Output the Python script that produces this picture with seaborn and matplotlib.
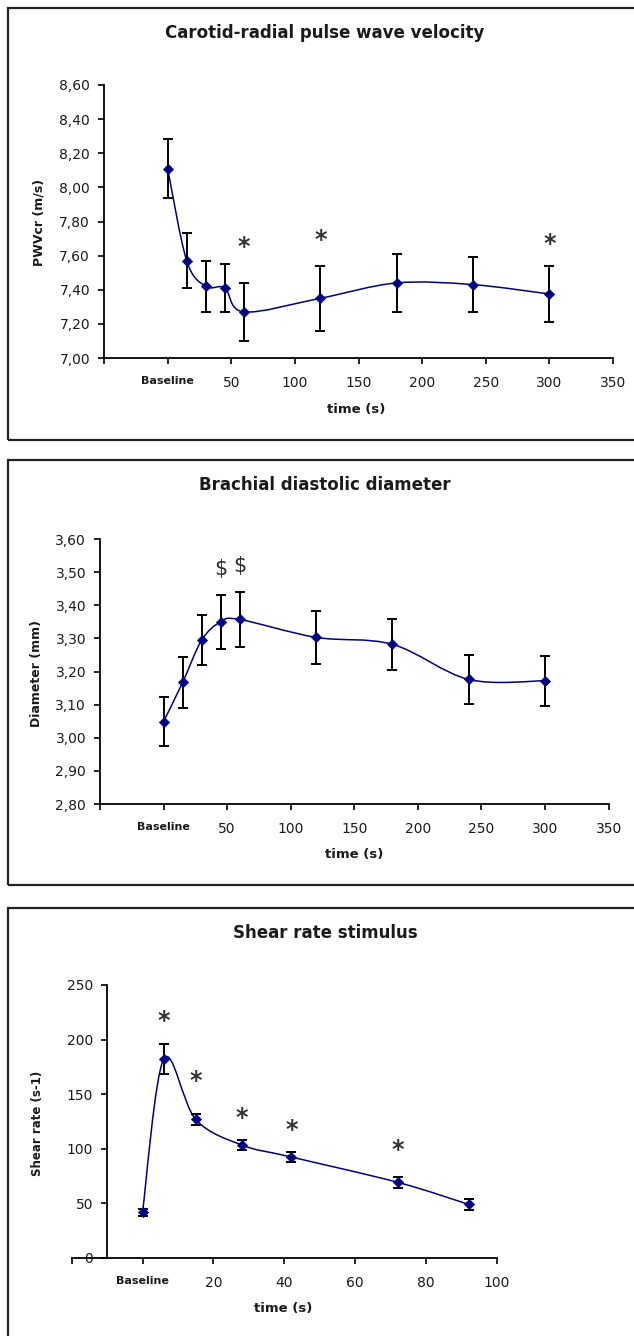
import numpy as np
import pandas as pd
import seaborn as sns
import matplotlib.pyplot as plt
from matplotlib.path import Path
from matplotlib.patches import PathPatch, Rectangle
from matplotlib.ticker import FuncFormatter

# ---- data ----
pwv_time = [0, 15, 30, 45, 60, 120, 180, 240, 300]
pwv_mean = [8.11, 7.57, 7.42, 7.41, 7.27, 7.35, 7.44, 7.43, 7.375]
pwv_err = [0.175, 0.16, 0.15, 0.14, 0.17, 0.19, 0.17, 0.16, 0.165]
pwv_star_x = [60, 120, 300]
pwv_star_y = [7.65, 7.69, 7.67]

diam_time = [0, 15, 30, 45, 60, 120, 180, 240, 300]
diam_mean = [3.049, 3.167, 3.295, 3.350, 3.357, 3.303, 3.282, 3.176, 3.172]
diam_err = [0.073, 0.076, 0.076, 0.081, 0.082, 0.079, 0.076, 0.073, 0.076]
diam_mark_x = [45, 60]
diam_mark_y = [3.51, 3.52]

shear_time = [0, 6, 15, 28, 42, 72, 92]
shear_mean = [41.6, 182.2, 126.8, 103.3, 92.3, 69.1, 48.9]
shear_err = [3.5, 14, 5.2, 5.0, 4.3, 5.3, 5.0]
shear_star_x = [6, 15, 28, 42, 72]
shear_star_y = [217, 162, 128, 117.5, 99]

W, H = 634, 1336
NAVY = '#000080'
TXT = '#1a1a1a'

sns.set_style('white')
plt.rcParams['font.family'] = ['DejaVu Sans']


def smooth_path(x, y):
    # Catmull-Rom style smoothing like Excel's "smoothed line"
    pts = np.column_stack([x, y]).astype(float)
    n = len(pts)
    verts = [pts[0]]
    codes = [Path.MOVETO]
    for i in range(n - 1):
        p0 = pts[i - 1] if i > 0 else pts[i]
        p1, p2 = pts[i], pts[i + 1]
        p3 = pts[i + 2] if i + 2 < n else pts[i + 1]
        verts += [p1 + (p2 - p0) / 6, p2 - (p3 - p1) / 6, p2]
        codes += [Path.CURVE4] * 3
    return Path(verts, codes)


def px_axes(fig, x0, x1, ytop, ybot):
    return fig.add_axes([x0 / W, 1 - ybot / H, (x1 - x0) / W, (ybot - ytop) / H])


def draw_panel(ax, t, m, e, title_y, title):
    df = pd.DataFrame({'time': t, 'value': m})
    ax.add_patch(PathPatch(smooth_path(t, m), fill=False, edgecolor=NAVY, lw=1.1, zorder=2))
    ax.errorbar(t, m, yerr=e, fmt='none', ecolor='black', elinewidth=1.4,
                capsize=3.6, capthick=1.4, zorder=3)
    sns.scatterplot(data=df, x='time', y='value', marker='D', s=28, color=NAVY,
                    edgecolor=NAVY, ax=ax, zorder=4)
    for side in ['top', 'right']:
        ax.spines[side].set_visible(False)
    for side in ['left', 'bottom']:
        ax.spines[side].set_color('black')
        ax.spines[side].set_linewidth(1.3)
    ax.tick_params(axis='both', direction='out', length=4, width=1.2, color='black',
                   labelsize=10, labelcolor=TXT, bottom=True, left=True)
    ax.tick_params(axis='x', pad=9)
    ax.tick_params(axis='y', pad=6)
    fig.text(325 / W, 1 - title_y / H, title, ha='center', va='center',
             fontsize=12, fontweight='bold', color=TXT)


fig = plt.figure(figsize=(W / 100, H / 100), dpi=100)
fig.patch.set_facecolor('white')

# panel frames
for top, bot in [(8, 440), (460, 885), (908, 1345)]:
    fig.add_artist(Rectangle((8 / W, 1 - bot / H), 640 / W, (bot - top) / H,
                             transform=fig.transFigure, fill=False,
                             edgecolor='#222222', lw=1.6))

comma = FuncFormatter(lambda v, p: f'{v:.2f}'.replace('.', ','))

# ---- panel 1 ----
ax1 = px_axes(fig, 104, 613, 85, 358)
draw_panel(ax1, pwv_time, pwv_mean, pwv_err, 33, 'Carotid-radial pulse wave velocity')
ax1.set_xlim(-50, 350)
ax1.set_ylim(7.0, 8.6)
ax1.set_yticks(np.arange(7.0, 8.61, 0.2))
ax1.yaxis.set_major_formatter(comma)
ax1.set_xticks(range(-50, 351, 50))
ax1.set_xticklabels([''] + ['Baseline'] + [str(v) for v in range(50, 351, 50)])
ax1.set_xlabel('time (s)', fontsize=9.5, fontweight='bold', color=TXT)
ax1.set_ylabel('PWVcr (m/s)', fontsize=9, fontweight='bold', color=TXT)
ax1.xaxis.set_label_coords(0.495, -0.187)
ax1.yaxis.set_label_coords(-0.128, 0.498)
for sx, sy in zip(pwv_star_x, pwv_star_y):
    ax1.text(sx, sy, '*', ha='center', va='center', fontsize=17, fontweight='bold', color='#333333')

# ---- panel 2 ----
ax2 = px_axes(fig, 100, 608.6, 539, 804)
draw_panel(ax2, diam_time, diam_mean, diam_err, 485, 'Brachial diastolic diameter')
ax2.set_xlim(-50, 350)
ax2.set_ylim(2.8, 3.6)
ax2.set_yticks(np.arange(2.8, 3.61, 0.1))
ax2.yaxis.set_major_formatter(comma)
ax2.set_xticks(range(-50, 351, 50))
ax2.set_xticklabels([''] + ['Baseline'] + [str(v) for v in range(50, 351, 50)])
ax2.set_xlabel('time (s)', fontsize=9.5, fontweight='bold', color=TXT)
ax2.set_ylabel('Diameter (mm)', fontsize=9, fontweight='bold', color=TXT)
ax2.xaxis.set_label_coords(0.5, -0.192)
ax2.yaxis.set_label_coords(-0.124, 0.494)
for sx, sy in zip(diam_mark_x, diam_mark_y):
    ax2.text(sx, sy, '$', ha='center', va='center', fontsize=15, color='#333333')

# ---- panel 3 ----
ax3 = px_axes(fig, 71.6, 497, 985, 1257.7)
draw_panel(ax3, shear_time, shear_mean, shear_err, 933, 'Shear rate stimulus')
ax3.set_xlim(-20, 100)
ax3.set_ylim(0, 250)
ax3.spines['left'].set_position(('data', -10))
ax3.set_yticks(range(0, 251, 50))
ax3.set_xticks(range(-20, 101, 20))
ax3.set_xticklabels([''] + ['Baseline'] + [str(v) for v in range(20, 101, 20)])
ax3.set_xlabel('time (s)', fontsize=9.5, fontweight='bold', color=TXT)
ax3.set_ylabel('Shear rate (s-1)', fontsize=8.5, fontweight='bold', color=TXT)
ax3.xaxis.set_label_coords(0.497, -0.188)
ax3.yaxis.set_label_coords(-0.079, 0.494)
for sx, sy in zip(shear_star_x, shear_star_y):
    ax3.text(sx, sy, '*', ha='center', va='center', fontsize=17, fontweight='bold', color='#333333')

for ax in (ax1, ax2, ax3):
    ax.xaxis.label.set_va('center')
    ax.yaxis.label.set_va('center')
    lab = ax.get_xticklabels()[1]
    lab.set_fontsize(8)
    lab.set_fontweight('bold')

fig.savefig('out.png', dpi=100, facecolor='white')
